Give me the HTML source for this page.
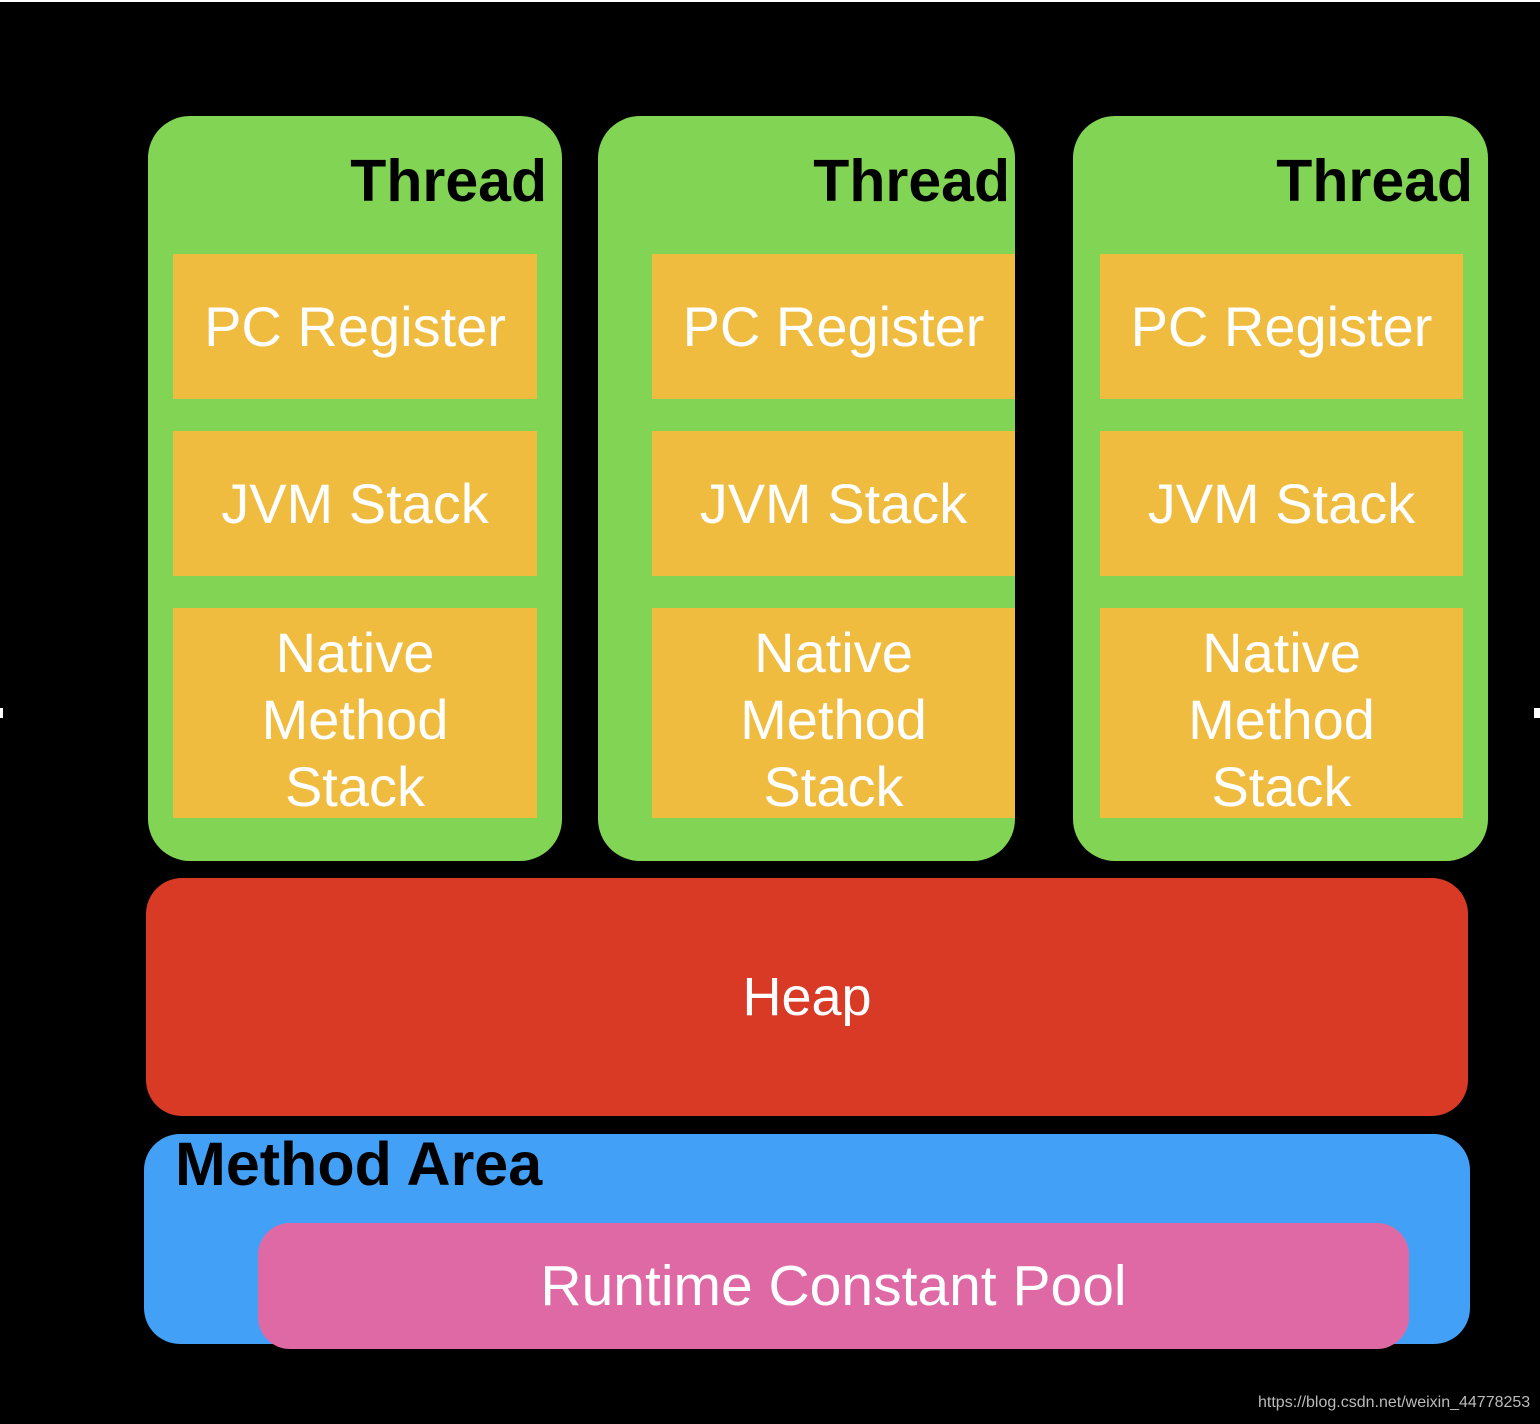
<!DOCTYPE html>
<html><head><style>
body{margin:0;width:1540px;height:1424px;background:#000;position:relative;overflow:hidden;font-family:"Liberation Sans",sans-serif}
div{position:absolute;box-sizing:border-box}
.g{background:#82d455;border-radius:42px;top:116px;height:745px}
.o{background:#efbc40;color:#fff;font-size:56px;display:flex;align-items:center;justify-content:center;text-align:center;line-height:67px}
.t{font-weight:bold;font-size:59px;color:#000;top:146px;text-align:right;line-height:70px}
.n{padding-top:12px}
</style></head><body>
<div style="left:0;top:0;width:1540px;height:2px;background:#fff"></div>
<div style="left:1534px;top:708px;width:6px;height:10px;background:#fff"></div>
<div style="left:0;top:708px;width:3px;height:10px;background:#fff"></div>

<div class="g" style="left:148px;width:414px"></div>
<div class="t" style="left:148px;width:399px">Thread</div>
<div class="o" style="left:173px;top:254px;width:364px;height:145px">PC Register</div>
<div class="o" style="left:173px;top:431px;width:364px;height:145px">JVM Stack</div>
<div class="o n" style="left:173px;top:608px;width:364px;height:210px">Native<br>Method<br>Stack</div>

<div class="g" style="left:598px;width:417px"></div>
<div class="t" style="left:598px;width:412px">Thread</div>
<div class="o" style="left:652px;top:254px;width:363px;height:145px">PC Register</div>
<div class="o" style="left:652px;top:431px;width:363px;height:145px">JVM Stack</div>
<div class="o n" style="left:652px;top:608px;width:363px;height:210px">Native<br>Method<br>Stack</div>

<div class="g" style="left:1073px;width:415px"></div>
<div class="t" style="left:1073px;width:400px">Thread</div>
<div class="o" style="left:1100px;top:254px;width:363px;height:145px">PC Register</div>
<div class="o" style="left:1100px;top:431px;width:363px;height:145px">JVM Stack</div>
<div class="o n" style="left:1100px;top:608px;width:363px;height:210px">Native<br>Method<br>Stack</div>

<div style="left:146px;top:878px;width:1322px;height:238px;background:#d93a26;border-radius:36px;color:#fff;font-size:54px;display:flex;align-items:center;justify-content:center">Heap</div>

<div style="left:144px;top:1134px;width:1326px;height:210px;background:#42a1f7;border-radius:36px"></div>
<div style="left:175px;top:1131px;font-weight:bold;font-size:61px;color:#000;line-height:66px">Method Area</div>
<div style="left:258px;top:1223px;width:1151px;height:126px;background:#de69a5;border-radius:32px;color:#fff;font-size:57px;display:flex;align-items:center;justify-content:center">Runtime Constant Pool</div>

<div style="left:1258px;top:1394px;font-size:16px;color:#bbb">https://blog.csdn.net/weixin_44778253</div>
</body></html>
